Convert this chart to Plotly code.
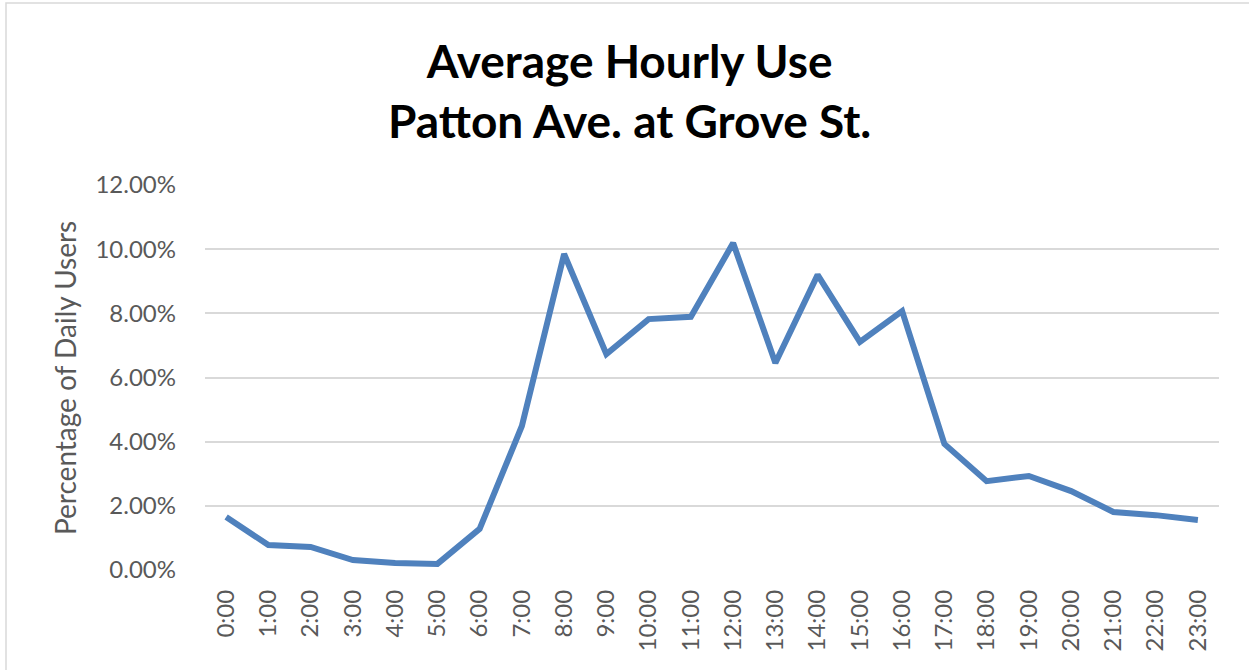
import plotly.graph_objects as go

hours = [f"{h}:00" for h in range(24)]
values = [1.65, 0.78, 0.72, 0.31, 0.22, 0.19, 1.28, 4.49, 9.85, 6.73, 7.82, 7.89,
          10.19, 6.45, 9.20, 7.11, 8.07, 3.93, 2.77, 2.93, 2.46, 1.81, 1.71, 1.56]
values = [v / 100 for v in values]
y_ticks = [0, 0.02, 0.04, 0.06, 0.08, 0.10, 0.12]

W, H = 1249, 670
L, R, T, B = 205, 30, 185, 100
pw, ph = W - L - R, H - T - B

def px_to_paper(x, y):
    return (x - L) / pw, (H - B - y) / ph

fig = go.Figure()
fig.add_trace(go.Scatter(x=hours, y=values, mode="lines",
                         line=dict(color="#4F81BD", width=6), hoverinfo="skip"))

FAM = "Lato, Liberation Sans, sans-serif"
tfont = dict(family=FAM, size=24, color="#595959")

x0, y0 = px_to_paper(6, 3)
x1, y1 = px_to_paper(1252, 673)
ax_x, ax_y = px_to_paper(65, 378)
tx, ty = px_to_paper(629, 90)

fig.update_layout(
    width=W, height=H,
    margin=dict(l=L, r=R, t=T, b=B, autoexpand=False),
    paper_bgcolor="white", plot_bgcolor="white",
    showlegend=False,
    xaxis=dict(type="category", range=[-0.5, 23.5], tickangle=-90, tickfont=tfont,
               showgrid=False, showline=False, ticks="", zeroline=False, ticklabelstandoff=14),
    yaxis=dict(range=[0, 0.12], tickvals=y_ticks, tickformat=".2%", tickfont=tfont,
               showgrid=True, gridcolor="#D9D9D9", gridwidth=1.5, zeroline=False,
               showline=False, ticks="", ticklabelstandoff=28),
    annotations=[
        dict(text="<b>Average Hourly Use</b><br><b>Patton Ave. at Grove St.</b>",
             xref="paper", yref="paper", x=tx, y=ty,
             xanchor="center", yanchor="middle", showarrow=False, align="center",
             font=dict(family=FAM, size=46, color="black")),
        dict(text="Percentage of Daily Users", textangle=-90,
             xref="paper", yref="paper", x=ax_x, y=ax_y,
             xanchor="center", yanchor="middle", showarrow=False,
             font=dict(family=FAM, size=28, color="#595959")),
    ],
    shapes=[dict(type="rect", xref="paper", yref="paper", x0=x0, y0=y0, x1=x1, y1=y1,
                 line=dict(color="#D9D9D9", width=1.5), layer="below")],
)

fig.write_html("out.html", config={"displayModeBar": False},
               post_script="document.body.style.margin='0';document.body.style.overflow='hidden';")
